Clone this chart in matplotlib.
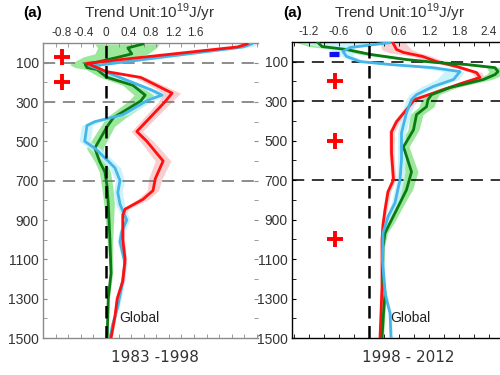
import numpy as np
import matplotlib.pyplot as plt
from matplotlib.ticker import MultipleLocator

plt.rcParams['font.family'] = ['Liberation Sans', 'DejaVu Sans']

# ---- 1983-1998 (left) ----
red_L_d = [5, 20, 103, 145, 175, 255, 300, 450, 500, 600, 690, 750, 795, 845, 875,
           1000, 1100, 1210, 1300, 1390, 1500]
red_L_v = [2.52, 2.35, -0.34, 0.0, 0.62, 1.18, 1.05, 0.55, 0.73, 1.02, 0.88, 0.84, 0.66,
           0.34, 0.30, 0.30, 0.34, 0.30, 0.20, 0.16, 0.09]
red_L_err = [0.1, 0.1, 0.08, 0.06, 0.1, 0.15, 0.12, 0.1, 0.12, 0.14, 0.12, 0.1, 0.1,
             0.06, 0.04, 0.03, 0.03, 0.03, 0.03, 0.02, 0.02]

blue_L_d = [5, 20, 118, 135, 152, 240, 265, 290, 365, 400, 420, 500, 535, 595, 635, 700,
            760, 820, 900, 960, 1010, 1120, 1240, 1340, 1430, 1500]
blue_L_v = [2.6, 2.45, -0.28, -0.1, 0.04, 0.82, 1.0, 0.75, 0.30, -0.2, -0.34, -0.38, -0.2,
            0.02, 0.16, 0.25, 0.21, 0.25, 0.37, 0.28, 0.25, 0.34, 0.28, 0.21, 0.12, 0.07]
blue_L_err = [0.18, 0.14, 0.1, 0.1, 0.1, 0.1, 0.12, 0.12, 0.1, 0.1, 0.1, 0.1, 0.1, 0.1,
              0.1, 0.08, 0.08, 0.08, 0.06, 0.05, 0.05, 0.04, 0.04, 0.03, 0.03, 0.03]

green_L_d = [5, 25, 55, 70, 100, 110, 125, 135, 160, 175, 215, 265, 295, 380, 425, 535,
             605, 655, 730, 815, 1000, 1170, 1300, 1500]
green_L_v = [0.66, 0.39, 0.46, 0.25, -0.2, -0.37, -0.34, -0.16, -0.05, 0.02, 0.48, 0.70,
             0.62, 0.13, 0.02, -0.2, -0.11, -0.02, 0.02, 0.04, 0.07, 0.09, 0.04, 0.02]
green_L_lo = [-0.2, -0.15, -0.2, -0.4, -0.6, -0.65, -0.55, -0.35, -0.2, -0.1, 0.3, 0.5,
              0.4, 0.0, -0.1, -0.35, -0.2, -0.12, -0.08, -0.04, 0.02, 0.06, 0.02, 0.0]
green_L_hi = [0.95, 0.9, 0.75, 0.55, 0.1, -0.1, -0.1, 0.0, 0.1, 0.15, 0.6, 0.85, 0.8,
              0.35, 0.15, -0.05, 0.0, 0.08, 0.12, 0.15, 0.12, 0.12, 0.06, 0.04]

# ---- 1998-2012 (right) ----
red_R_d = [5, 38, 53, 73, 99, 124, 155, 180, 206, 241, 277, 292, 343, 404, 455, 562, 698,
           759, 851, 927, 1003, 1105, 1242, 1374, 1500]
red_R_v = [0.48, 0.55, 0.69, 1.07, 1.35, 1.75, 2.15, 2.22, 1.89, 1.49, 1.08, 0.91, 0.75,
           0.55, 0.45, 0.45, 0.49, 0.38, 0.32, 0.28, 0.26, 0.26, 0.26, 0.24, 0.22]
red_R_err = [0.25, 0.3, 0.3, 0.2, 0.15, 0.12, 0.1, 0.1, 0.1, 0.1, 0.08, 0.08, 0.08, 0.06,
             0.06, 0.05, 0.05, 0.05, 0.04, 0.04, 0.03, 0.03, 0.03, 0.03, 0.03]

blue_R_d = [3, 28, 48, 73, 99, 114, 130, 150, 190, 226, 267, 292, 358, 460, 597, 698, 815,
            886, 968, 1105, 1273, 1374, 1500]
blue_R_v = [0.42, -0.38, -0.52, -0.45, -0.18, 0.42, 1.28, 1.82, 1.69, 1.28, 0.95, 0.85,
            0.75, 0.65, 0.65, 0.62, 0.52, 0.38, 0.28, 0.27, 0.32, 0.42, 0.44]
blue_R_lo = [-1.4, -0.9, -0.7, -0.55, -0.3, 0.25, 1.0, 1.5, 1.35, 1.05, 0.8, 0.74, 0.66,
             0.57, 0.57, 0.55, 0.45, 0.33, 0.24, 0.24, 0.29, 0.39, 0.41]
blue_R_hi = [0.5, -0.25, -0.35, -0.3, -0.05, 0.55, 1.4, 1.9, 1.8, 1.4, 1.05, 0.95, 0.84,
             0.73, 0.73, 0.7, 0.6, 0.44, 0.32, 0.3, 0.35, 0.45, 0.47]

green_R_d = [3, 23, 38, 63, 89, 104, 114, 130, 150, 165, 190, 231, 267, 292, 328, 368, 445,
             531, 658, 749, 800, 917, 968, 1039, 1171, 1273, 1374, 1500]
green_R_v = [-1.02, -0.94, -0.45, 0.03, 0.75, 1.35, 1.95, 2.52, 2.58, 2.52, 2.29, 1.62,
             1.25, 1.18, 1.15, 0.95, 0.89, 0.69, 0.85, 0.75, 0.65, 0.42, 0.32, 0.28, 0.27,
             0.32, 0.29, 0.26]
green_R_lo = [-1.45, -1.2, -0.7, -0.15, 0.6, 1.2, 1.8, 2.35, 2.4, 2.35, 2.1, 1.45, 1.1,
              1.05, 1.0, 0.82, 0.78, 0.58, 0.72, 0.63, 0.55, 0.35, 0.27, 0.25, 0.24, 0.29,
              0.26, 0.23]
green_R_hi = [-0.9, -0.75, -0.3, 0.2, 0.9, 1.5, 2.1, 2.65, 2.75, 2.7, 2.45, 1.75, 1.4,
              1.35, 1.3, 1.08, 1.0, 0.8, 0.98, 0.87, 0.75, 0.5, 0.37, 0.31, 0.3, 0.35,
              0.32, 0.29]

plusL_x, plusL_d = [-0.79, -0.79], [70, 200]
plusR_x, plusR_d = [-0.68, -0.68, -0.68], [200, 500, 1000]
rectR_x, rectR_d = [-0.7], [60]

dash_depths = [100, 300, 700]
ylabels = [100, 300, 500, 700, 900, 1100, 1300, 1500]

RED = '#ff1010'
BLUE = '#45b5ea'
GREEN = '#0c7a12'
PINK = '#f7c6c8'
CYAN = '#c4f2fb'
LGREEN = '#9be89b'

fig = plt.figure(figsize=(5, 3.75), dpi=100)
axL = fig.add_axes([43/500, 37/375, 215/500, 295/375])
axR = fig.add_axes([292/500, 37/375, 215/500, 296/375])


def setup(ax, xlim, xlabels, step, spine_col, hcol):
    ax.set_xlim(*xlim)
    ax.set_ylim(1500, 0)
    ax.set_xticks(xlabels)
    ax.set_xticklabels([('%g' % v) for v in xlabels])
    ax.xaxis.set_minor_locator(MultipleLocator(step))
    ax.xaxis.remove_overlapping_locs = False
    ax.set_yticks(ylabels)
    ax.set_yticks(range(200, 1500, 200), minor=True)
    ax.tick_params(axis='x', which='major', length=0, labeltop=True, labelbottom=False,
                   labelsize=8.5, colors='#333', pad=3)
    ax.tick_params(axis='x', which='minor', direction='in', length=3, top=True,
                   bottom=True, color=spine_col)
    ax.tick_params(axis='y', which='both', direction='in', length=3, right=True,
                   color=spine_col, labelsize=10, labelcolor='#333', pad=3)
    for s in ax.spines.values():
        s.set_color(spine_col)
        s.set_linewidth(1)
    ax.spines['right'].set_visible(False)
    for d in dash_depths:
        ax.axhline(d, color=hcol, lw=1.1, ls=(0, (8, 5)), zorder=1.5)
    ax.axvline(0, color='black', lw=1.8, ls=(0, (5, 3)), zorder=4)


setup(axL, (-1.125, 2.714), [-0.8, -0.4, 0, 0.4, 0.8, 1.2, 1.6], 0.2245, '#8a8a8a', '#6e6e6e')
setup(axR, (-1.54, 2.76), [-1.2, -0.6, 0, 0.6, 1.2, 1.8, 2.4], 0.3, 'black', 'black')

# left panel
rl = np.array(red_L_v); re = np.array(red_L_err)
bl = np.array(blue_L_v); be = np.array(blue_L_err)
axL.fill_betweenx(green_L_d, green_L_lo, green_L_hi, color=LGREEN, lw=0, zorder=1)
axL.fill_betweenx(blue_L_d, bl - be, bl + be, color=CYAN, lw=0, alpha=0.85, zorder=1)
axL.fill_betweenx(red_L_d, rl - re, rl + re, color=PINK, lw=0, alpha=0.85, zorder=1)
axL.plot(green_L_v, green_L_d, color=GREEN, lw=2, zorder=3)
axL.plot(blue_L_v, blue_L_d, color=BLUE, lw=2, zorder=3)
axL.plot(red_L_v, red_L_d, color=RED, lw=2, zorder=3)
axL.plot(plusL_x, plusL_d, ls='none', marker='+', ms=11, mew=2.8, color='red', zorder=5)
axL.text(0.23, 1400, 'Global', fontsize=10, color='#222', va='center', ha='left', zorder=6)

# right panel
rr = np.array(red_R_v); rre = np.array(red_R_err)
axR.fill_betweenx(green_R_d, green_R_lo, green_R_hi, color=LGREEN, lw=0, zorder=1)
axR.fill_betweenx(red_R_d, rr - rre, rr + rre, color=PINK, lw=0, alpha=0.85, zorder=1)
axR.fill_betweenx(blue_R_d, blue_R_lo, blue_R_hi, color=CYAN, lw=0, alpha=0.85, zorder=1)
axR.plot(red_R_v, red_R_d, color=RED, lw=2, zorder=3)
axR.plot(green_R_v, green_R_d, color=GREEN, lw=2, zorder=3)
axR.plot(blue_R_v, blue_R_d, color=BLUE, lw=2, zorder=3)
axR.plot(plusR_x, plusR_d, ls='none', marker='+', ms=11, mew=2.8, color='red', zorder=5)
axR.plot(rectR_x, rectR_d, ls='none', marker='_', ms=7.5, mew=3.8, color='#1010ee', zorder=5)
axR.text(0.42, 1400, 'Global', fontsize=10, color='#222', va='center', ha='left', zorder=6)

# titles
title = 'Trend Unit:10$^{\\mathregular{19}}$J/yr'
fig.text(33/500, 1 - 13/375, '(a)', fontsize=11, fontweight='bold', ha='center', va='center')
fig.text(150/500, 1 - 13/375, title, fontsize=11, color='#333', ha='center', va='center')
fig.text(293/500, 1 - 13/375, '(a)', fontsize=11, fontweight='bold', ha='center', va='center')
fig.text(400/500, 1 - 13/375, title, fontsize=11, color='#333', ha='center', va='center')

fig.text(155/500, 1 - 357/375, '1983 -1998', fontsize=11, color='#333', ha='center',
         va='center', family='DejaVu Sans')
fig.text(408/500, 1 - 357/375, '1998 - 2012', fontsize=11, color='#333', ha='center',
         va='center', family='DejaVu Sans')

fig.savefig('out.png', dpi=100)
